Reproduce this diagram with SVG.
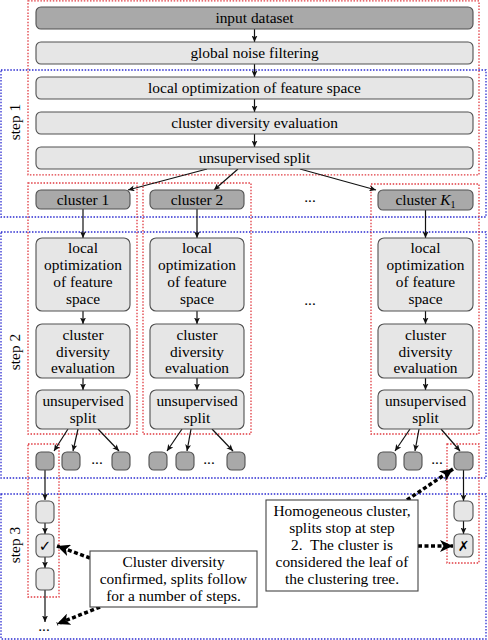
<svg xmlns="http://www.w3.org/2000/svg" width="488" height="640" viewBox="0 0 488 640">
<style>
text{font-family:"Liberation Serif","Times New Roman",serif;font-size:15.4px;fill:#000;text-anchor:middle}
.dark{fill:#a9a9a9;stroke:#505050;stroke-width:1.1}
.light{fill:#e6e6e6;stroke:#505050;stroke-width:1.1}
.red{fill:none;stroke:#e03a40;stroke-width:1.3;stroke-dasharray:1.5 1.6}
.blue{fill:none;stroke:#2a2ad0;stroke-width:1.3;stroke-dasharray:1.5 1.6}
.c{fill:none;stroke:#111;stroke-width:1.2}
.d{fill:none;stroke:#000;stroke-width:3.5;stroke-dasharray:4 2.5}
.note{fill:#fff;stroke:#444;stroke-width:1.1}
</style>
<defs>
<marker id="a" markerUnits="userSpaceOnUse" markerWidth="7" markerHeight="6" refX="6.5" refY="3" orient="auto">
<path d="M0,0 L6.5,3 L0,6 L1.6,3 z" fill="#111"/>
</marker>
<marker id="b" markerUnits="userSpaceOnUse" markerWidth="14" markerHeight="12" refX="13" refY="6" orient="auto">
<path d="M0,0 L13,6 L0,12 L3.5,6 z" fill="#000"/>
</marker>
</defs>

<g id="frames">
<rect class="red" x="28" y="0.8" width="451" height="174"/>
<rect class="blue" x="1" y="70" width="485" height="147"/>
<rect class="blue" x="1" y="232" width="485" height="246"/>
<rect class="blue" x="1" y="494" width="485" height="145"/>
<rect class="red" x="28" y="183" width="109" height="251"/>
<rect class="red" x="143" y="183" width="108" height="251"/>
<rect class="red" x="371" y="184" width="108" height="250"/>
<rect class="red" x="28" y="444" width="31" height="153"/>
<rect class="red" x="447" y="444" width="32" height="119"/>
<text transform="translate(19.5,122) rotate(-90)">step 1</text>
<text transform="translate(19.5,352) rotate(-90)">step 2</text>
<text transform="translate(19.5,545) rotate(-90)">step 3</text>
</g>

<g id="connectors">
<line class="c" x1="254.5" y1="29" x2="254.5" y2="42" marker-end="url(#a)"/>
<line class="c" x1="254.5" y1="64" x2="254.5" y2="77" marker-end="url(#a)"/>
<line class="c" x1="254.5" y1="99" x2="254.5" y2="112" marker-end="url(#a)"/>
<line class="c" x1="254.5" y1="134" x2="254.5" y2="147" marker-end="url(#a)"/>
<line class="c" x1="207" y1="169" x2="128" y2="190" marker-end="url(#a)"/>
<line class="c" x1="238" y1="169" x2="214" y2="190" marker-end="url(#a)"/>
<line class="c" x1="300" y1="169" x2="376" y2="190" marker-end="url(#a)"/>
<line class="c" x1="83" y1="209" x2="83" y2="238" marker-end="url(#a)"/>
<line class="c" x1="197" y1="209" x2="197" y2="238" marker-end="url(#a)"/>
<line class="c" x1="425.5" y1="210" x2="425.5" y2="238" marker-end="url(#a)"/>
<line class="c" x1="83" y1="311" x2="83" y2="324" marker-end="url(#a)"/>
<line class="c" x1="197" y1="311" x2="197" y2="324" marker-end="url(#a)"/>
<line class="c" x1="425.5" y1="311" x2="425.5" y2="324" marker-end="url(#a)"/>
<line class="c" x1="83" y1="378" x2="83" y2="390" marker-end="url(#a)"/>
<line class="c" x1="197" y1="378" x2="197" y2="390" marker-end="url(#a)"/>
<line class="c" x1="425.5" y1="378" x2="425.5" y2="390" marker-end="url(#a)"/>
<line class="c" x1="68" y1="429" x2="54" y2="451" marker-end="url(#a)"/>
<line class="c" x1="78" y1="429" x2="73" y2="451" marker-end="url(#a)"/>
<line class="c" x1="98" y1="429" x2="119" y2="451" marker-end="url(#a)"/>
<line class="c" x1="182" y1="429" x2="167" y2="451" marker-end="url(#a)"/>
<line class="c" x1="191" y1="429" x2="187" y2="451" marker-end="url(#a)"/>
<line class="c" x1="212" y1="429" x2="233" y2="451" marker-end="url(#a)"/>
<line class="c" x1="410" y1="429" x2="395" y2="451" marker-end="url(#a)"/>
<line class="c" x1="419" y1="429" x2="415" y2="451" marker-end="url(#a)"/>
<line class="c" x1="441" y1="429" x2="460" y2="451" marker-end="url(#a)"/>
<line class="c" x1="45" y1="470" x2="45" y2="500" marker-end="url(#a)"/>
<line class="c" x1="45" y1="523" x2="45" y2="534" marker-end="url(#a)"/>
<line class="c" x1="45" y1="557" x2="45" y2="568" marker-end="url(#a)"/>
<line class="c" x1="45" y1="590" x2="45" y2="622" marker-end="url(#a)"/>
<line class="c" x1="463.5" y1="470" x2="463.5" y2="501" marker-end="url(#a)"/>
<line class="c" x1="463.5" y1="521" x2="463.5" y2="534" marker-end="url(#a)"/>
<line class="d" x1="90" y1="558" x2="57" y2="546" marker-end="url(#b)"/>
<line class="d" x1="100" y1="607" x2="57" y2="624" marker-end="url(#b)"/>
<line class="d" x1="407" y1="500" x2="453" y2="469" marker-end="url(#b)"/>
<line class="d" x1="418" y1="546" x2="453" y2="546" marker-end="url(#b)"/>
</g>

<g id="input-dataset"><rect class="dark" x="36" y="7" width="437" height="22" rx="5"/><text x="254.5" y="23">input dataset</text></g>
<g id="global-noise-filtering"><rect class="light" x="36" y="42" width="437" height="22" rx="5"/><text x="254.5" y="58">global noise filtering</text></g>
<g id="local-opt-1"><rect class="light" x="36" y="77" width="437" height="22" rx="5"/><text x="254.5" y="93">local optimization of feature space</text></g>
<g id="diversity-1"><rect class="light" x="36" y="112" width="437" height="22" rx="5"/><text x="254.5" y="128">cluster diversity evaluation</text></g>
<g id="split-1"><rect class="light" x="36" y="147" width="437" height="22" rx="5"/><text x="254.5" y="163">unsupervised split</text></g>

<g id="cluster-1"><rect class="dark" x="36" y="190" width="94" height="19" rx="5"/><text x="83" y="205">cluster 1</text></g>
<g id="cluster-2"><rect class="dark" x="150" y="190" width="94" height="19" rx="5"/><text x="197" y="205">cluster 2</text></g>
<g id="cluster-k1"><rect class="dark" x="378" y="190" width="95" height="20" rx="5"/><text x="425.5" y="205">cluster <tspan font-style="italic">K</tspan><tspan font-size="10" dy="3">1</tspan></text></g>
<g id="dots-top"><text x="310" y="202">...</text><text x="310" y="305">...</text></g>

<g id="col1">
<rect class="light" x="36" y="238" width="94" height="73" rx="6"/>
<text x="83" y="253">local</text><text x="83" y="270">optimization</text><text x="83" y="287">of feature</text><text x="83" y="304">space</text>
<rect class="light" x="36" y="324" width="94" height="54" rx="6"/>
<text x="83" y="340">cluster</text><text x="83" y="357">diversity</text><text x="83" y="373">evaluation</text>
<rect class="light" x="36" y="390" width="94" height="39" rx="6"/>
<text x="83" y="406">unsupervised</text><text x="83" y="423">split</text>
</g>
<g id="col2">
<rect class="light" x="150" y="238" width="94" height="73" rx="6"/>
<text x="197" y="253">local</text><text x="197" y="270">optimization</text><text x="197" y="287">of feature</text><text x="197" y="304">space</text>
<rect class="light" x="150" y="324" width="94" height="54" rx="6"/>
<text x="197" y="340">cluster</text><text x="197" y="357">diversity</text><text x="197" y="373">evaluation</text>
<rect class="light" x="150" y="390" width="94" height="39" rx="6"/>
<text x="197" y="406">unsupervised</text><text x="197" y="423">split</text>
</g>
<g id="colK">
<rect class="light" x="378" y="238" width="95" height="73" rx="6"/>
<text x="425.5" y="253">local</text><text x="425.5" y="270">optimization</text><text x="425.5" y="287">of feature</text><text x="425.5" y="304">space</text>
<rect class="light" x="378" y="324" width="95" height="54" rx="6"/>
<text x="425.5" y="340">cluster</text><text x="425.5" y="357">diversity</text><text x="425.5" y="373">evaluation</text>
<rect class="light" x="378" y="390" width="95" height="39" rx="6"/>
<text x="425.5" y="406">unsupervised</text><text x="425.5" y="423">split</text>
</g>

<g id="subclusters">
<rect class="dark" x="36" y="452" width="18" height="18" rx="5"/>
<rect class="dark" x="62" y="452" width="18" height="18" rx="5"/>
<text x="97" y="464">...</text>
<rect class="dark" x="112" y="452" width="18" height="18" rx="5"/>
<rect class="dark" x="149" y="452" width="18" height="18" rx="5"/>
<rect class="dark" x="176" y="452" width="18" height="18" rx="5"/>
<text x="209" y="464">...</text>
<rect class="dark" x="227" y="452" width="18" height="18" rx="5"/>
<rect class="dark" x="378" y="452" width="18" height="18" rx="5"/>
<rect class="dark" x="404" y="452" width="18" height="18" rx="5"/>
<text x="437" y="464">...</text>
<rect class="dark" x="454" y="452" width="19" height="18" rx="5"/>
</g>

<g id="leaf-path-1">
<rect class="light" x="36" y="501" width="18" height="22" rx="5"/>
<rect class="light" x="36" y="534" width="18" height="23" rx="5"/>
<text x="45" y="551" style="font-family:'DejaVu Sans',sans-serif;font-size:15px">✓</text>
<rect class="light" x="36" y="568" width="18" height="22" rx="5"/>
<text x="44" y="631">...</text>
</g>
<g id="leaf-path-k">
<rect class="light" x="454" y="501" width="19" height="20" rx="5"/>
<rect class="light" x="454" y="534" width="19" height="23" rx="5"/>
<text x="463.5" y="551" style="font-family:'DejaVu Sans',sans-serif;font-size:14px;font-style:italic">✗</text>
</g>

<g id="note-diversity">
<rect class="note" x="90" y="551" width="167" height="56"/>
<text x="173.5" y="567">Cluster diversity</text>
<text x="173.5" y="584">confirmed, splits follow</text>
<text x="173.5" y="601">for a number of steps.</text>
</g>
<g id="note-homogeneous">
<rect class="note" x="266" y="500" width="152" height="91"/>
<text x="342" y="516">Homogeneous cluster,</text>
<text x="342" y="533">splits stop at step</text>
<text x="342" y="550" xml:space="preserve">2.  The cluster is</text>
<text x="342" y="567">considered the leaf of</text>
<text x="342" y="584">the clustering tree.</text>
</g>
</svg>
